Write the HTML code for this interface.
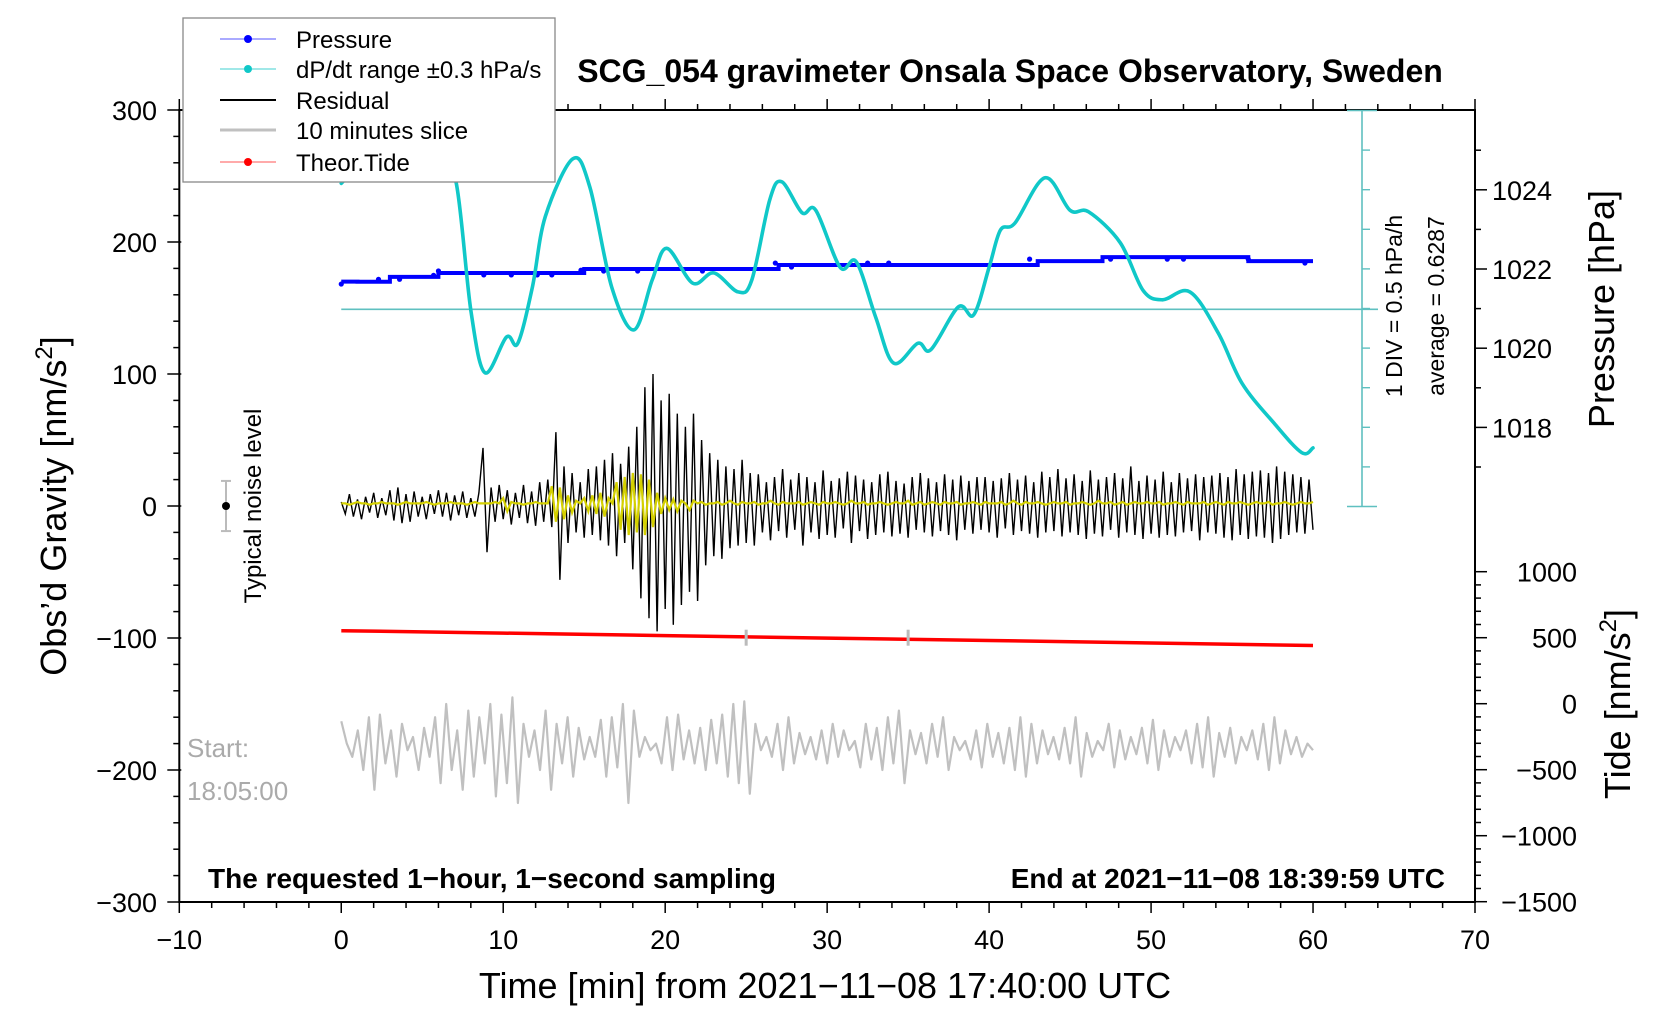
<!DOCTYPE html>
<html><head><meta charset="utf-8">
<style>
html,body{margin:0;padding:0;background:#fff;}
svg{display:block;font-family:"Liberation Sans",sans-serif;}
</style></head>
<body>
<svg id="chart" width="1676" height="1020" viewBox="0 0 1676 1020" xmlns="http://www.w3.org/2000/svg">
  <rect width="1676" height="1020" fill="#fff"/>
  <g id="axes"></g>
  <g id="series"></g>
  <g id="overlay"></g>
</svg>
<script>
// ---------- data ----------
const xTicks = [-10,0,10,20,30,40,50,60,70];
const gravTicks = [300,200,100,0,-100,-200,-300];
const pressTicks = [1018,1020,1022,1024];
const tideTicks = [1000,500,0,-500,-1000,-1500];

const dpdtTimes = [0,2,4,6,7.1,8,8.87,10.2,10.9,11.8,12.6,14.3,15.35,16.7,18.07,19.2,20.1,21.7,23,24.5,25.35,26.45,27.2,28.45,29.3,30.8,31.8,33,34.1,35.6,36.4,38.1,39.05,40,40.7,41.6,43.45,45,46.15,48.1,49.5,50.7,52.4,54.15,55.6,57.6,59.3,60];
const dpdtValues = [4.08,4.5,4.75,4.56,4.08,2.48,1.69,2.14,2.06,2.77,3.66,4.39,4.03,2.77,2.23,2.86,3.26,2.82,2.95,2.71,2.86,3.87,4.10,3.71,3.74,3.02,3.09,2.39,1.81,2.06,1.98,2.52,2.42,3.02,3.49,3.58,4.15,3.74,3.72,3.33,2.73,2.61,2.71,2.19,1.56,1.05,0.68,0.74];
const dpdtMidline = 2.49;

const pressurePerMinute = [1021.68,1021.68,1021.68,1021.8,1021.8,1021.8,1021.9,1021.9,1021.9,1021.9,1021.9,1021.9,1021.9,1021.9,1021.9,1022.0,1022.0,1022.0,1022.0,1022.0,1022.0,1022.0,1022.0,1022.0,1022.0,1022.0,1022.0,1022.1,1022.1,1022.1,1022.1,1022.1,1022.1,1022.1,1022.1,1022.1,1022.1,1022.1,1022.1,1022.1,1022.1,1022.1,1022.1,1022.2,1022.2,1022.2,1022.2,1022.3,1022.3,1022.3,1022.3,1022.3,1022.3,1022.3,1022.3,1022.3,1022.2,1022.2,1022.2,1022.2,1022.2];
const pressureDotTimes = [0,2.3,3.6,5.7,6,8.8,10.5,12.1,13,14.8,16.2,18.3,22.3,26.8,27.8,32.5,33.8,42.5,47.5,51,52,56,59.5];
const pressureDotValues = [1021.62,1021.74,1021.74,1021.84,1021.95,1021.85,1021.85,1021.85,1021.85,1021.97,1021.95,1021.95,1021.95,1022.15,1022.05,1022.15,1022.15,1022.25,1022.25,1022.25,1022.25,1022.25,1022.15];

const residual = [3,-6,9,-8,5,-10,7,-5,10,-9,6,-7,12,-11,14,-13,9,-12,11,-8,7,-10,9,-6,12,-8,10,-11,8,-7,11,-9,6,
-8,10,44,-35,14,-12,16,-10,
12,-14,10,-9,16,-13,11,-15,18,-12,20,-16,
56,-56,30,-28,
25,-20,18,-24,28,-22,30,-26,35,-30,40,-38,32,-28,45,-48,
60,-70,90,-85,100,-95,80,-78,85,-90,70,-75,60,-65,70,-72,50,
-45,40,-38,35,-40,30,-32,28,-30,35,-28,25,-30,
24,-20,18,-26,22,-19,28,-24,20,-18,25,-30,22,-20,18,-25,27,-22,19,-24,21,-17,26,-28,23,-19,20,-25,18,-22,24,-20,26,-23,19,-21,17,-24,22,-18,25,-20,21,-23,18,-19,24,-22,20,-26,23,-18,19,-21,22,
-18,22,-20,19,-24,21,-17,25,-22,20,-19,23,-21,18,-24,26,-20,22,-19,28,-23,21,-20,24,-22,19,-25,27,-21,20,-23,22,-18,25,-24,21,-20,30,-22,19,-25,23,-21,20,-24,26,-22,18,-23,25,-20,21,-19,24,-26,22,-20,23,-21,
25,-24,22,-26,28,-22,24,-25,26,-23,27,-24,25,-28,30,-25,26,-22,24,-20,22,-21,20,-18];

const smoothed = [2,2,1,2,3,2,2,1,2,2,3,2,2,2,1,2,3,2,2,2,2,3,2,1,2,2,2,3,2,2,2,1,2,3,2,2,2,2,3,2,6,-4,3,2,2,1,2,2,3,2,2,2,
15,-12,14,-10,8,-5,4,2,
6,-4,8,-6,10,-8,6,2,
18,-18,22,-22,25,-20,24,-22,20,-16,10,-6,
6,-3,5,-4,4,2,-3,4,2,3,1,2,
2,3,1,2,4,2,1,3,2,2,3,1,2,2,4,2,1,3,2,2,2,3,1,2,3,2,1,3,2,2,3,2,1,2,4,2,2,3,1,2,2,3,2,1,2,3,2,2,4,1,
2,3,1,2,3,2,1,3,2,2,3,1,2,2,3,2,1,3,2,2,2,3,1,2,4,2,1,3,2,2,3,2,1,2,3,2,2,3,1,2,2,3,2,1,2,4,2,2,3,1,
2,3,1,2,3,2,2,3,2,2,3,1,2,2,3,2,1,3,2,2,2,3,1,2,3,2,1,3,2,2,3,2,1,2,3,2,2,3,1,2,2,3,2,1,2,3,2,2,3];

const tideTimes = [0,10,20,30,40,50,60];
const tideValues = [553,535,516,497,479,460,441];

const sliceValues = [-163,-180,-190,-170,-200,-160,-215,-158,-195,-170,-205,-165,-185,-175,-200,-168,-190,-160,-210,-150,-200,-170,-215,-155,-205,-160,-195,-150,-220,-158,-210,-145,-225,-165,-190,-170,-200,-155,-215,-165,-195,-160,-205,-168,-192,-175,-190,-162,-205,-160,-198,-150,-225,-155,-190,-175,-185,-180,-195,-160,-200,-158,-192,-170,-195,-168,-200,-162,-195,-158,-205,-150,-210,-148,-218,-165,-185,-175,-190,-165,-200,-160,-195,-172,-188,-175,-192,-170,-195,-165,-190,-170,-185,-178,-198,-165,-192,-168,-200,-160,-195,-155,-210,-170,-188,-172,-195,-165,-190,-160,-200,-175,-185,-178,-192,-170,-198,-165,-190,-172,-195,-168,-200,-160,-205,-165,-195,-170,-188,-175,-192,-168,-195,-160,-205,-172,-190,-178,-185,-165,-198,-170,-192,-175,-188,-168,-195,-162,-200,-170,-190,-175,-185,-170,-195,-165,-198,-160,-205,-172,-190,-168,-195,-175,-185,-170,-192,-165,-200,-160,-195,-170,-188,-175,-190,-180,-185];

const noiseLevel = 19;
const sliceMarkTimes = [25,35];

// ---------- scales ----------
const X0=179.3, X1=1475, Y0=110, Y1=902;
function xs(t){ return X0 + (t+10)*(X1-X0)/80; }
function yg(g){ return Y0 + (300-g)*(Y1-Y0)/600; }
function yp(p){ return 269 - (p-1022)*39.6; }
function yt(v){ return 703.7 - v*0.132; }
function yd(v){ return 506.5 - v*79.2; }

const NS="http://www.w3.org/2000/svg";
function mk(parent, tag, attrs, text){
  const el=document.createElementNS(NS,tag);
  for(const k in attrs) el.setAttribute(k,attrs[k]);
  if(text!==undefined) el.textContent=text;
  parent.appendChild(el);
  return el;
}
const axes=document.getElementById('axes');
const series=document.getElementById('series');
function fmt(v){ return String(v).replace('-','\u2212'); }

// ---------- series ----------
let el = mk(series,'line',{x1:xs(0),x2:1378,y1:yd(dpdtMidline),y2:yd(dpdtMidline),stroke:'#5fc0c0','stroke-width':1.6});



el = mk(series,'g',{});


mk(el,'line',{x1:1362,x2:1362,y1:yd(5),y2:yd(0),stroke:'#5fc0c0','stroke-width':1.6});
mk(el,'line',{x1:1347,x2:1377,y1:yd(5),y2:yd(5),stroke:'#5fc0c0','stroke-width':1.6});
mk(el,'line',{x1:1347,x2:1377,y1:yd(0),y2:yd(0),stroke:'#5fc0c0','stroke-width':1.6});
for(let k=1;k<10;k++){ mk(el,'line',{x1:1362,x2:1370,y1:yd(k*0.5),y2:yd(k*0.5),stroke:'#5fc0c0','stroke-width':1.4}); }

let pts=residual.map((v,i)=>xs(i*60/(residual.length-1)).toFixed(1)+','+yg(v).toFixed(1)).join(' ');
el = mk(series,'polyline',{points:pts,fill:'none',stroke:'#000','stroke-width':1.4});


pts=smoothed.map((v,i)=>xs(i*60/(smoothed.length-1)).toFixed(1)+','+yg(v).toFixed(1)).join(' ');
el = mk(series,'polyline',{points:pts,fill:'none',stroke:'#d4d000','stroke-width':2.2});



pts=tideTimes.map((t,i)=>xs(t).toFixed(1)+','+yt(tideValues[i]).toFixed(1)).join(' ');
el = mk(series,'polyline',{points:pts,fill:'none',stroke:'#ff0000','stroke-width':3.5});


sliceMarkTimes.forEach(t=>{
  const m=mk(series,'line',{x1:xs(t),x2:xs(t),y1:yt(500)-8,y2:yt(500)+8,stroke:'#bbb','stroke-width':3});
  
  
});

pts=sliceValues.map((v,i)=>xs(i*60/(sliceValues.length-1)).toFixed(1)+','+yg(v).toFixed(1)).join(' ');
el = mk(series,'polyline',{points:pts,fill:'none',stroke:'#c0c0c0','stroke-width':2.2,'stroke-linejoin':'round'});



let d='';
pressurePerMinute.forEach((p,i)=>{
  if(i===0) d+='M'+xs(0)+','+yp(p);
  else d+=' H'+xs(i).toFixed(1)+' V'+yp(p).toFixed(1);
});
el = mk(series,'path',{d:d,fill:'none',stroke:'#0000ff','stroke-width':4});


pressureDotTimes.forEach((t,i)=>{
  const c=mk(series,'circle',{cx:xs(t),cy:yp(pressureDotValues[i]),r:2.6,fill:'#0000ff'});
  
  
});

(function(){
  const P=dpdtTimes.map((t,i)=>[xs(t),yd(dpdtValues[i])]);
  let s='M'+P[0][0]+','+P[0][1];
  for(let i=0;i<P.length-1;i++){
    const p0=P[Math.max(0,i-1)],p1=P[i],p2=P[i+1],p3=P[Math.min(P.length-1,i+2)];
    const c1=[p1[0]+(p2[0]-p0[0])/6,p1[1]+(p2[1]-p0[1])/6];
    const c2=[p2[0]-(p3[0]-p1[0])/6,p2[1]-(p3[1]-p1[1])/6];
    s+=' C'+c1[0].toFixed(1)+','+c1[1].toFixed(1)+' '+c2[0].toFixed(1)+','+c2[1].toFixed(1)+' '+p2[0].toFixed(1)+','+p2[1].toFixed(1);
  }
  el = mk(series,'path',{d:s,fill:'none',stroke:'#10c8c8','stroke-width':3.6,'stroke-linecap':'round'});
  
  
})();

el = mk(series,'g',{});


mk(el,'line',{x1:226,x2:226,y1:yg(noiseLevel),y2:yg(-noiseLevel),stroke:'#bbb','stroke-width':2});
mk(el,'line',{x1:221,x2:231,y1:yg(noiseLevel),y2:yg(noiseLevel),stroke:'#bbb','stroke-width':2});
mk(el,'line',{x1:221,x2:231,y1:yg(-noiseLevel),y2:yg(-noiseLevel),stroke:'#bbb','stroke-width':2});
mk(el,'circle',{cx:226,cy:yg(0),r:4,fill:'#000'});

// ---------- axes ----------
const fr=mk(axes,'rect',{x:X0,y:Y0,width:X1-X0,height:Y1-Y0,fill:'none',stroke:'#000','stroke-width':2});


for(let t=-10;t<=70;t+=2){
  const major = t%10===0;
  const L = major?11:6;
  mk(axes,'line',{x1:xs(t),x2:xs(t),y1:Y1,y2:Y1+L,stroke:'#000','stroke-width':1.5});
  mk(axes,'line',{x1:xs(t),x2:xs(t),y1:Y0,y2:Y0-L,stroke:'#000','stroke-width':1.5});
}
xTicks.forEach(t=>{
  const tx=mk(axes,'text',{x:xs(t),y:949,'font-size':27,'text-anchor':'middle',fill:'#000'},fmt(t));
  
  
});
for(let g=-300;g<=300;g+=20){
  const major=g%100===0;
  mk(axes,'line',{x1:X0-(major?12:6),x2:X0+(major?2:0),y1:yg(g),y2:yg(g),stroke:'#000','stroke-width':1.5});
}
gravTicks.forEach(g=>{
  const tx=mk(axes,'text',{x:157,y:yg(g)+10,'font-size':27,'text-anchor':'end',fill:'#000'},fmt(g));
  
  
});
for(let p=1017;p<=1025;p+=1){
  const major=p%2===0;
  mk(axes,'line',{x1:X1,x2:X1+(major?12:6),y1:yp(p),y2:yp(p),stroke:'#000','stroke-width':1.5});
}
pressTicks.forEach(p=>{
  const tx=mk(axes,'text',{x:1492,y:yp(p)+10,'font-size':27,fill:'#000'},String(p));
  
  
});
for(let v=-1500;v<=1000;v+=100){
  const major=v%500===0;
  mk(axes,'line',{x1:X1,x2:X1+(major?12:6),y1:yt(v),y2:yt(v),stroke:'#000','stroke-width':1.5});
}
tideTicks.forEach(v=>{
  const tx=mk(axes,'text',{x:1577,y:yt(v)+10,'font-size':27,'text-anchor':'end',fill:'#000'},fmt(v));
  
  
});
</script>

<svg style="position:absolute;left:0;top:0" width="1676" height="1020" viewBox="0 0 1676 1020" xmlns="http://www.w3.org/2000/svg" font-family="Liberation Sans, sans-serif">
  <text x="1010" y="82" font-size="32" font-weight="bold" text-anchor="middle">SCG_054 gravimeter Onsala Space Observatory, Sweden</text>
  <text transform="translate(66,506) rotate(-90)" font-size="36" text-anchor="middle">Obs’d Gravity [nm/s<tspan dy="-14" font-size="24">2</tspan><tspan dy="14">]</tspan></text>
  <text transform="translate(1614,309) rotate(-90)" font-size="36" text-anchor="middle">Pressure [hPa]</text>
  <text transform="translate(1630,704) rotate(-90)" font-size="36" text-anchor="middle">Tide [nm/s<tspan dy="-14" font-size="24">2</tspan><tspan dy="14">]</tspan></text>
  <text x="825" y="998" font-size="36" text-anchor="middle">Time [min] from 2021−11−08 17:40:00 UTC</text>
  <text transform="translate(1402,306) rotate(-90)" font-size="23" text-anchor="middle">1 DIV = 0.5 hPa/h</text>
  <text transform="translate(1444,306) rotate(-90)" font-size="23" text-anchor="middle">average = 0.6287</text>
  <text transform="translate(261,506) rotate(-90)" font-size="24" text-anchor="middle">Typical noise level</text>
  <text x="187" y="757" font-size="26" fill="#aaa">Start:</text>
  <text x="187" y="800" font-size="26" fill="#aaa">18:05:00</text>
  <text x="208" y="888" font-size="28" font-weight="bold">The requested 1−hour, 1−second sampling</text>
  <text x="1445" y="888" font-size="28" font-weight="bold" text-anchor="end">End at 2021−11−08 18:39:59 UTC</text>
  <g>
    <rect x="183" y="18" width="372" height="164" fill="#fff" stroke="#888" stroke-width="1.3"/>
    <g>
      <line x1="220" x2="276" y1="39" y2="39" stroke="#5555ff" stroke-width="1"/><circle cx="248" cy="39" r="4" fill="#0000ff"/>
      <text x="296" y="48" font-size="24">Pressure</text></g>
    <g>
      <line x1="220" x2="276" y1="69" y2="69" stroke="#40d0d0" stroke-width="1"/><circle cx="248" cy="69" r="4" fill="#10c8c8"/>
      <text x="296" y="78" font-size="24">dP/dt range ±0.3 hPa/s</text></g>
    <g>
      <line x1="220" x2="276" y1="100" y2="100" stroke="#000" stroke-width="2"/>
      <text x="296" y="109" font-size="24">Residual</text></g>
    <g>
      <line x1="220" x2="276" y1="130" y2="130" stroke="#c0c0c0" stroke-width="3"/>
      <text x="296" y="139" font-size="24">10 minutes slice</text></g>
    <g>
      <line x1="220" x2="276" y1="162" y2="162" stroke="#ff5555" stroke-width="1"/><circle cx="248" cy="162" r="4" fill="#ff0000"/>
      <text x="296" y="171" font-size="24">Theor.Tide</text></g>
  </g>
</svg>
</body></html>
